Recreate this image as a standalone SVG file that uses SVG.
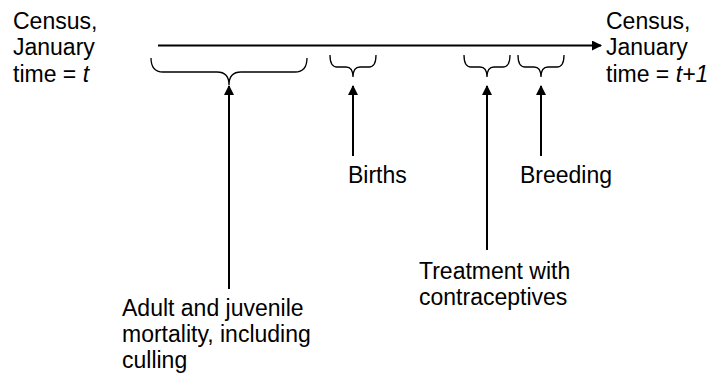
<svg xmlns="http://www.w3.org/2000/svg" width="710" height="377" viewBox="0 0 710 377">
<style>
text{font-family:"Liberation Sans",Arial,sans-serif;font-size:23px;fill:#000}
.ln{stroke:#000;stroke-width:2;fill:none}
.br{stroke:#000;stroke-width:1.3;fill:none}
</style>
<defs>
<marker id="ah" viewBox="0 0 10 10" refX="9" refY="5" markerWidth="5" markerHeight="5" orient="auto" markerUnits="strokeWidth">
<path d="M0,0 L10,5 L0,10 Z" fill="#000"/>
</marker>
</defs>
<rect width="710" height="377" fill="#fff"/>
<g id="census-t"><text x="13" y="29">Census,</text><text x="13" y="55">January</text><text x="13" y="82">time = <tspan font-style="italic">t</tspan></text></g>
<g id="census-t1"><text x="606" y="29">Census,</text><text x="606" y="55">January</text><text x="606" y="82">time = <tspan font-style="italic">t+1</tspan></text></g>
<g id="mortality"><path class="br" d="M151,58 Q151,72 163,72 L217,72 Q229,72 229,85 Q229,72 241,72 L295,72 Q307,72 307,58"/><text x="122" y="316">Adult and juvenile</text><text x="122" y="342">mortality, including</text><text x="122" y="368">culling</text></g>
<g id="births"><path class="br" d="M330,55 Q330,67 337,67 L346,67 Q353,67 353,77 Q353,67 360,67 L369,67 Q376,67 376,55"/><text x="348" y="183">Births</text></g>
<g id="treatment"><path class="br" d="M464,55 Q464,67 471,67 L480,67 Q487,67 487,77 Q487,67 494,67 L503,67 Q510,67 510,55"/><text x="419" y="279">Treatment with</text><text x="419" y="305">contraceptives</text></g>
<g id="breeding"><path class="br" d="M518,55 Q518,67 525,67 L534,67 Q541,67 541,77 Q541,67 548,67 L557,67 Q564,67 564,55"/><text x="520" y="183">Breeding</text></g>
<g id="connectors">
<line class="ln" x1="158" y1="45.5" x2="601" y2="45.5" marker-end="url(#ah)"/>
<line class="ln" x1="229" y1="289" x2="229" y2="86" marker-end="url(#ah)"/>
<line class="ln" x1="353" y1="156" x2="353" y2="86" marker-end="url(#ah)"/>
<line class="ln" x1="487" y1="250" x2="487" y2="86" marker-end="url(#ah)"/>
<line class="ln" x1="541" y1="156" x2="541" y2="86" marker-end="url(#ah)"/>
</g>
</svg>
